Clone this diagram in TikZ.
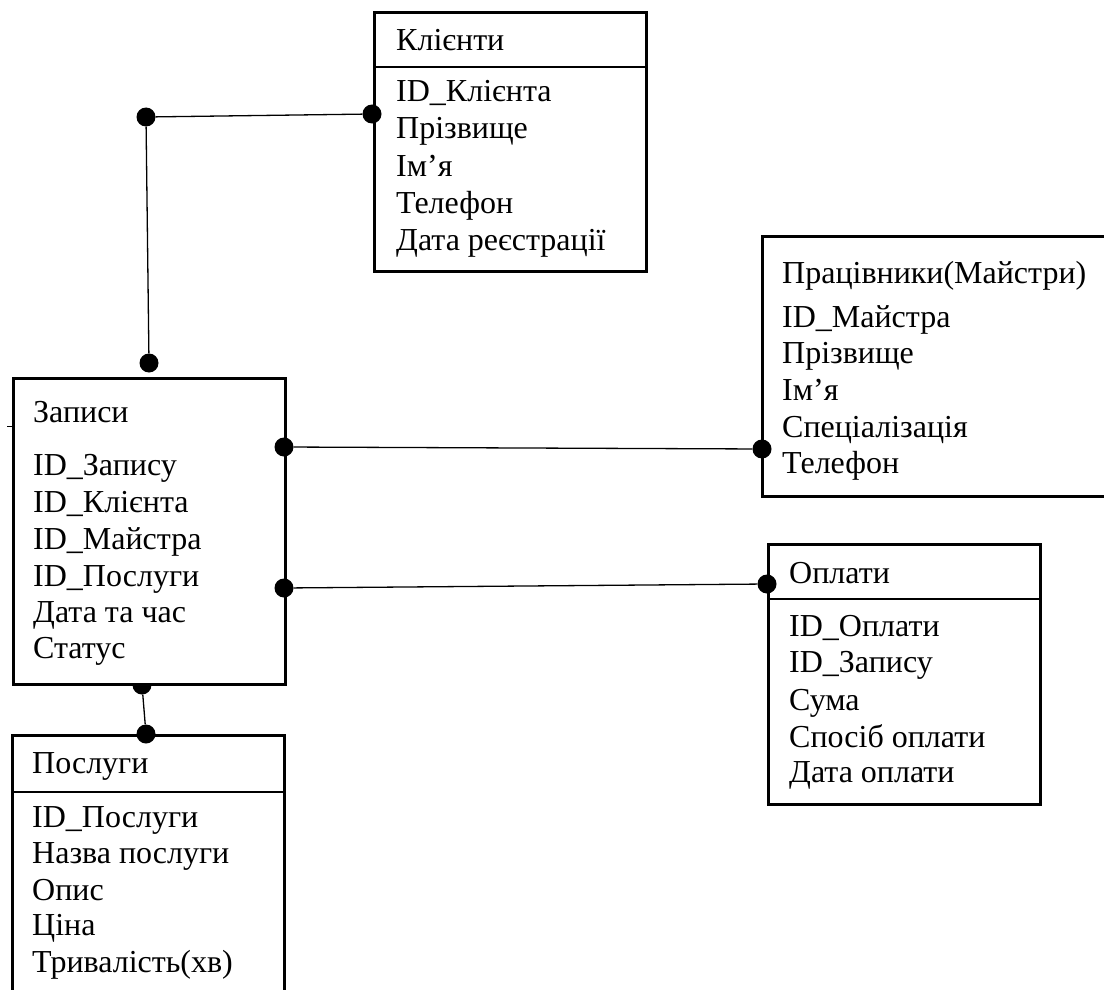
\documentclass[tikz,border=0pt]{standalone}
\usepackage{fontspec}
\setmainfont{Liberation Serif}
\begin{document}
\begin{tikzpicture}[x=1pt,y=-1pt,
  box/.style={draw, line width=2.6pt, fill=white, inner sep=0pt, anchor=north west},
  rule/.style={line width=1.3pt},
  link/.style={line width=1.3pt},
  dot/.style={circle, fill=black, inner sep=0pt, minimum size=19pt},
  txt/.style={anchor=base west, inner sep=0pt, font=\fontsize{32}{37}\selectfont}]
\useasboundingbox (0,0) rectangle (1104,990);
\clip (0,0) rectangle (1104,990);
\fill[white] (0,0) rectangle (1104,990);

% dot partly hidden under the Записи box
\node[dot] (dZ4) at (142,685) {};

% boxes
\node[box, minimum width=272pt, minimum height=259pt] (klienty) at (373,11) {};
\node[box, minimum width=272pt, minimum height=306pt] (zapysy) at (12,377) {};
\node[box, minimum width=360pt, minimum height=260pt] (maistry) at (761,235) {};
\node[box, minimum width=272pt, minimum height=260pt] (oplaty) at (767,543) {};
\node[box, minimum width=272pt, minimum height=280pt] (posluhy) at (11,734) {};

% dividers
\draw[rule] (373,67) -- (645,67);
\draw[rule] (767,599) -- (1039,599);
\draw[rule] (11,792) -- (283,792);
\draw[line width=1pt] (7,426) -- (12,426);

% Клієнти
\node[txt] (k0) at (396,51) {Клієнти};
\node[txt] (k1) at (396,102) {ID\_Клієнта};
\node[txt] (k2) at (396,139) {Прізвище};
\node[txt] (k3) at (396,176) {Ім’я};
\node[txt] (k4) at (396,213) {Телефон};
\node[txt] (k5) at (396,250) {Дата реєстрації};

% Записи
\node[txt] (z0) at (33,422) {Записи};
\node[txt] (z1) at (33,475) {ID\_Запису};
\node[txt] (z2) at (33,512) {ID\_Клієнта};
\node[txt] (z3) at (33,549) {ID\_Майстра};
\node[txt] (z4) at (33,586) {ID\_Послуги};
\node[txt] (z5) at (33,622) {Дата та час};
\node[txt] (z6) at (33,658) {Статус};

% Працівники
\node[txt] (m0) at (782,283) {Працівники(Майстри)};
\node[txt] (m1) at (782,327) {ID\_Майстра};
\node[txt] (m2) at (782,363) {Прізвище};
\node[txt] (m3) at (782,400) {Ім’я};
\node[txt] (m4) at (782,437) {Спеціалізація};
\node[txt] (m5) at (782,473) {Телефон};

% Оплати
\node[txt] (o0) at (789,583) {Оплати};
\node[txt] (o1) at (789,636) {ID\_Оплати};
\node[txt] (o2) at (789,672) {ID\_Запису};
\node[txt] (o3) at (789,710) {Сума};
\node[txt] (o4) at (789,747) {Спосіб оплати};
\node[txt] (o5) at (789,782) {Дата оплати};

% Послуги
\node[txt] (p0) at (32,773) {Послуги};
\node[txt] (p1) at (32,827) {ID\_Послуги};
\node[txt] (p2) at (32,863) {Назва послуги};
\node[txt] (p3) at (32,900) {Опис};
\node[txt] (p4) at (32,935) {Ціна};
\node[txt] (p5) at (32,972) {Тривалість(хв)};

% dots
\node[dot] (dK1) at (372,114) {};
\node[dot] (dK2) at (146,117) {};
\node[dot] (dZ1) at (149,363) {};
\node[dot] (dZ2) at (284,447) {};
\node[dot] (dM) at (762,449) {};
\node[dot] (dZ3) at (284,588) {};
\node[dot] (dO) at (767,584) {};
\node[dot] (dP) at (146,734) {};

% connectors
\draw[link] (dK1) -- (dK2);
\draw[link] (dK2) -- (dZ1);
\draw[link] (dZ2) -- (dM);
\draw[link] (dZ3) -- (dO);
\draw[link] (dZ4) -- (dP);
\end{tikzpicture}
\end{document}
